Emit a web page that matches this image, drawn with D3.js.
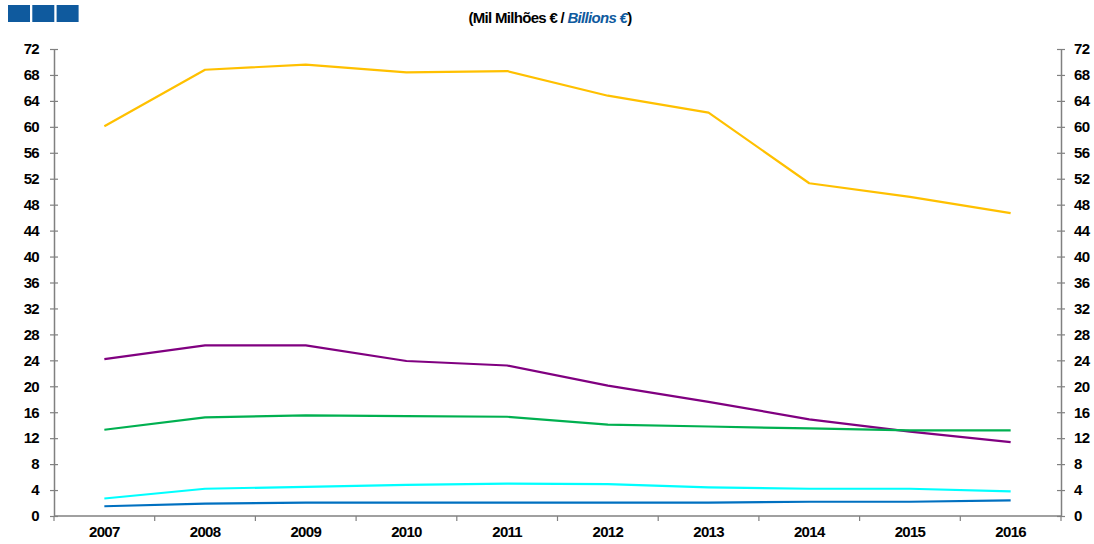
<!DOCTYPE html>
<html><head><meta charset="utf-8">
<script src="https://cdn.jsdelivr.net/npm/d3@7"></script>
<style>body{margin:0;background:#fff}svg{display:block;font-family:"Liberation Sans",Arial,sans-serif}</style>
</head><body>
<svg id="c" width="1094" height="544"></svg>
<script>
const years = ["2007","2008","2009","2010","2011","2012","2013","2014","2015","2016"];
const yellowSeries = [60.1,68.8,69.6,68.4,68.6,64.8,62.2,51.3,49.2,46.7];
const purpleSeries = [24.2,26.3,26.3,23.9,23.2,20.1,17.6,14.9,13.0,11.4];
const greenSeries  = [13.3,15.2,15.5,15.4,15.3,14.1,13.8,13.5,13.2,13.2];
const cyanSeries   = [2.7,4.2,4.5,4.8,5.0,4.9,4.4,4.2,4.2,3.8];
const blueSeries   = [1.5,1.9,2.05,2.05,2.05,2.05,2.05,2.2,2.2,2.4];
const yTicks = [0,4,8,12,16,20,24,28,32,36,40,44,48,52,56,60,64,68,72];

const series = [
  {values: yellowSeries, color:"#FFC000"},
  {values: purpleSeries, color:"#800080"},
  {values: greenSeries,  color:"#00B050"},
  {values: cyanSeries,   color:"#00FFFF"},
  {values: blueSeries,   color:"#0070C0"}
];

const svg = d3.select("#c");
const L = 54, R = 1061, T = 49, B = 516;
const x = d3.scaleBand().domain(years).range([L, R]);
const y = d3.scaleLinear().domain([0,72]).range([B, T]);

// header squares
const sq = svg.append("g");
[0,1,2].forEach(i => sq.append("rect").attr("x", 8 + i*24.3).attr("y", 5).attr("width", 22).attr("height", 17).attr("fill", "#0F5A9E"));

// subtitle
const sub = svg.append("text").attr("x", 550).attr("y", 23).attr("text-anchor","middle")
  .attr("font-size", 15).attr("font-weight","bold").attr("fill","#000").style("letter-spacing","-0.7px");
sub.append("tspan").text("(Mil Milhões € / ");
sub.append("tspan").text("Billions €").attr("font-style","italic").attr("fill","#0F5A9E");
sub.append("tspan").text(")");

const axisColor = "#808080";
function styleAxis(g){
  g.select(".domain").attr("stroke", axisColor).attr("stroke-width", 1.5);
  g.selectAll(".tick line").attr("stroke", axisColor).attr("stroke-width", 1.2);
  g.selectAll(".tick text").attr("fill","#000").attr("font-size", 15).attr("font-weight","bold")
    .attr("font-family","'Liberation Sans',Arial,sans-serif").style("letter-spacing","-0.7px");
}

// left axis
const gl = svg.append("g").attr("transform", `translate(${L},0)`)
  .call(d3.axisLeft(y).tickValues(yTicks).tickSize(4).tickPadding(11).tickSizeOuter(0));
styleAxis(gl);
gl.selectAll(".tick line").attr("x1", -4).attr("x2", 4);

// right axis
const gr = svg.append("g").attr("transform", `translate(${R},0)`)
  .call(d3.axisRight(y).tickValues(yTicks).tickSize(4).tickPadding(9).tickSizeOuter(0));
styleAxis(gr);
gr.selectAll(".tick line").attr("x1", -4).attr("x2", 4);

// bottom axis
const gb = svg.append("g").attr("transform", `translate(0,${B})`)
  .call(d3.axisBottom(x).tickSize(0).tickPadding(10).tickSizeOuter(0));
styleAxis(gb);
gb.select(".domain").attr("d", `M${L},0H${R}`);
const bounds = years.map(yr => x(yr)).concat([R]);
gb.selectAll(".bt").data(bounds).enter().append("line").attr("class","bt")
  .attr("x1", d=>d).attr("x2", d=>d).attr("y1", 0).attr("y2", 5)
  .attr("stroke", axisColor).attr("stroke-width", 1.2);

// lines
const line = d3.line().x((d,i) => x(years[i]) + x.bandwidth()/2).y(d => y(d));
series.forEach(s => {
  svg.append("path").datum(s.values).attr("d", line).attr("fill","none")
    .attr("stroke", s.color).attr("stroke-width", 2.2).attr("stroke-linejoin","round");
});
</script>
</body></html>
